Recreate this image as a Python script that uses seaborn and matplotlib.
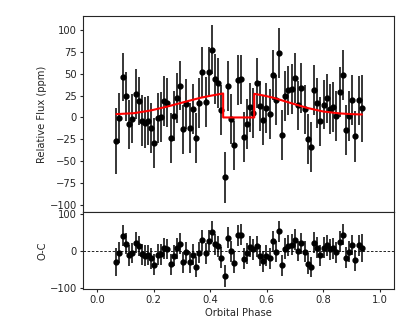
import numpy as np
import pandas as pd
import matplotlib
matplotlib.use("Agg")
import matplotlib.pyplot as plt
import seaborn as sns

# binned phase points
phase = [0.068, 0.079, 0.090, 0.102, 0.113, 0.124, 0.136, 0.147, 0.158, 0.169,
         0.181, 0.192, 0.203, 0.214, 0.226, 0.237, 0.248, 0.260, 0.271, 0.282,
         0.293, 0.305, 0.316, 0.327, 0.339, 0.350, 0.361, 0.372, 0.384, 0.395,
         0.406, 0.418, 0.429, 0.440, 0.451, 0.463, 0.474, 0.485, 0.497, 0.508,
         0.519, 0.531, 0.542, 0.553, 0.564, 0.576, 0.587, 0.598, 0.610, 0.621,
         0.632, 0.643, 0.655, 0.666, 0.677, 0.689, 0.700, 0.711, 0.722, 0.734,
         0.745, 0.756, 0.768, 0.779, 0.790, 0.802, 0.813, 0.824, 0.835, 0.847,
         0.858, 0.869, 0.881, 0.892, 0.903, 0.914, 0.926, 0.937]

flux = [-27.0, -1.0, 46.0, 24.0, -8.0, -1.5, 27.0, 19.0, -3.5, -6.0,
        -3.5, -12.5, -29.0, -1.0, 1.0, 19.0, 17.0, -23.0, 1.5, 22.5,
        36.0, -13.7, 15.0, -12.0, 10.0, -23.0, 17.0, 52.0, 17.5, 52.0,
        77.6, 44.0, 39.0, 9.0, -68.5, 36.0, -1.5, -32.0, 42.6, 43.4,
        -22.0, -7.0, 11.4, 4.6, 39.6, 13.0, -3.4, 10.6, 3.8, 48.7,
        19.8, 73.8, -20.0, 24.3, 30.8, 33.0, 45.0, 13.7, 33.9, 9.1,
        -24.4, -33.9, 31.6, 16.7, -4.6, 14.8, 21.7, 9.9, 12.2, 1.5,
        28.9, 48.7, -14.8, 1.5, 19.8, -21.7, 19.4, 10.3]

flux_err = [38.0, 28.5, 27.5, 28.0, 28.5, 28.0, 28.5, 27.5, 29.0, 29.0,
            28.0, 28.5, 28.5, 28.5, 28.5, 28.5, 28.0, 28.5, 28.5, 28.5,
            28.0, 28.5, 28.5, 28.5, 28.5, 28.5, 28.5, 28.5, 28.5, 28.0,
            28.5, 28.5, 28.5, 28.5, 29.0, 28.5, 28.5, 28.5, 28.5, 28.5,
            28.5, 28.5, 28.5, 28.5, 28.5, 28.5, 28.5, 28.5, 28.5, 28.5,
            28.5, 28.5, 28.5, 28.5, 28.5, 28.5, 28.5, 28.5, 28.5, 28.5,
            28.5, 28.5, 28.5, 28.5, 28.5, 28.5, 28.5, 28.5, 28.5, 28.5,
            28.5, 28.5, 28.5, 28.5, 28.5, 29.0, 28.5, 38.0]

# model evaluated at the binned phases (for the O-C panel)
model_at_data = [3.8, 4.0, 4.2, 4.3, 4.5, 4.7, 5.2, 5.7, 6.3, 6.9,
                 7.5, 8.2, 9.0, 9.8, 10.7, 11.6, 12.4, 13.4, 14.4, 15.3,
                 16.3, 17.3, 18.3, 19.2, 20.2, 21.1, 22.1, 22.9, 23.7, 24.4,
                 25.1, 25.8, 26.5, 27.2, 0.0, 0.0, 0.0, 0.0, 0.0, 0.0,
                 0.0, 0.0, 0.0, 0.0, 26.8, 25.9, 25.1, 24.3, 23.5, 22.7,
                 21.7, 20.6, 19.5, 18.4, 17.3, 16.1, 15.1, 14.0, 13.0, 11.8,
                 10.8, 10.0, 9.1, 8.3, 7.5, 6.7, 6.3, 5.9, 5.5, 5.0,
                 4.6, 4.4, 4.3, 4.1, 3.9, 3.8, 3.6, 3.4]

# model curve (red line), with eclipse ingress/egress steps
model_phase = [0.068, 0.131, 0.190, 0.249, 0.307, 0.366, 0.405, 0.446, 0.446,
               0.556, 0.556, 0.590, 0.624, 0.683, 0.742, 0.800, 0.859, 0.900, 0.937]
model_flux = [3.8, 4.9, 8.0, 12.5, 17.5, 22.5, 25.0, 27.4, 0.0,
              0.0, 27.0, 25.0, 22.5, 16.7, 11.0, 6.8, 4.6, 3.8, 3.4]

sns.set_style("ticks")
plt.rcParams['font.family'] = ['DejaVu Sans']
plt.rcParams['font.size'] = 7.2

df = pd.DataFrame({'phase': phase, 'flux': flux, 'err': flux_err, 'model': model_at_data})
df['resid'] = df['flux'] - df['model']
model_df = pd.DataFrame({'phase': model_phase, 'flux': model_flux})

fig = plt.figure(figsize=(4.15, 3.23), dpi=100)
ax = fig.add_axes([0.2, 0.3437, 0.749, 0.607])
ax2 = fig.add_axes([0.2, 0.1053, 0.749, 0.2384], sharex=ax)

# top: binned flux + model
ax.errorbar(df['phase'], df['flux'], yerr=df['err'], fmt='o', color='k',
            ms=3.5, elinewidth=1.1, capsize=0, zorder=2)
sns.lineplot(data=model_df, x='phase', y='flux', sort=False, estimator=None,
             color='red', lw=1.5, ax=ax, zorder=3)
ax.set_xlim(-0.05, 1.05)
ax.set_ylim(-108, 116)
ax.set_yticks(np.arange(-100, 101, 25))
ax.set_xlabel('')
ax.set_ylabel('Relative Flux (ppm)')
ax.tick_params(axis='x', bottom=False, labelbottom=False)
ax.tick_params(axis='y', length=2.5, pad=2, labelsize=7.2)
ax.yaxis.set_label_coords(-0.115, 0.5)

# bottom: residuals
ax2.errorbar(df['phase'], df['resid'], yerr=df['err'], fmt='o', color='k',
             ms=3.5, elinewidth=1.1, capsize=0, zorder=2)
ax2.axhline(0, color='k', ls=(0, (3, 2)), lw=0.6, zorder=1)
ax2.set_ylim(-104, 106)
ax2.set_yticks([-100, 0, 100])
ax2.set_xticks(np.arange(0, 1.01, 0.2))
ax2.set_xlabel('Orbital Phase', labelpad=2)
ax2.set_ylabel('O-C')
ax2.tick_params(length=2.5, pad=2, labelsize=7.2)
ax2.yaxis.set_label_coords(-0.115, 0.5)

fig.savefig('out.png', dpi=100)
